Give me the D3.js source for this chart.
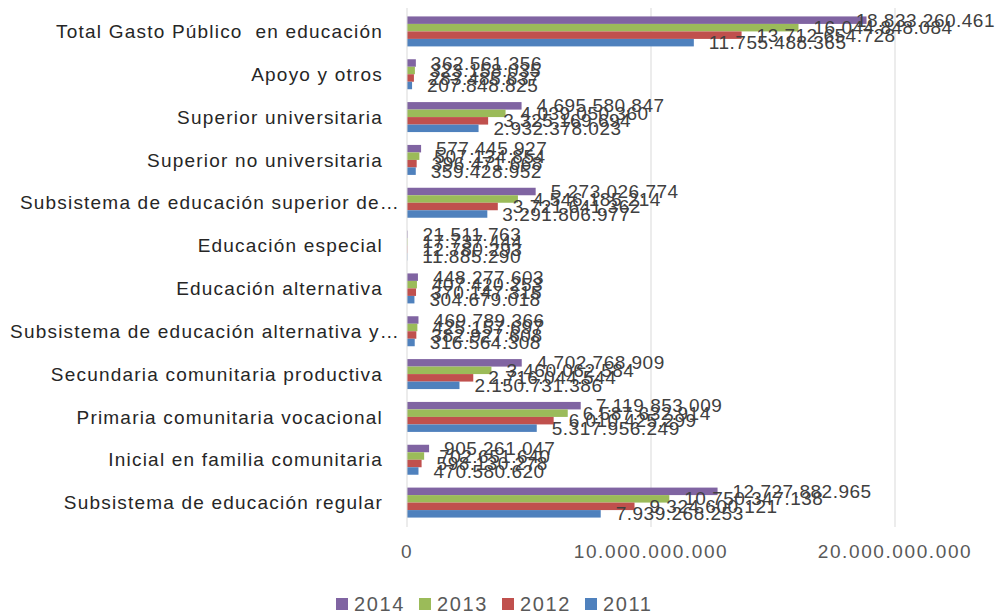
<!DOCTYPE html>
<html>
<head>
<meta charset="utf-8">
<script src="https://d3js.org/d3.v7.min.js"></script>
<style>
  body { margin: 0; background: #fff; }
  text { font-family: "Liberation Sans", Arial, sans-serif; }
</style>
</head>
<body>
<svg id="chart" width="998" height="613"></svg>
<script>
// categories, top to bottom as in the picture
var categories = [
  "Total Gasto Público  en educación",
  "Apoyo y otros",
  "Superior universitaria",
  "Superior no universitaria",
  "Subsistema de educación superior de…",
  "Educación especial",
  "Educación alternativa",
  "Subsistema de educación alternativa y…",
  "Secundaria comunitaria productiva",
  "Primaria comunitaria vocacional",
  "Inicial en familia comunitaria",
  "Subsistema de educación regular"
];

var years = ["2014", "2013", "2012", "2011"];
var colors = ["#8064A2", "#9BBB59", "#C0504D", "#4F81BD"];

var y2014 = [18833260461, 362561356, 4695580847, 577445927, 5273026774, 21511763, 448277603, 469789366, 4702768909, 7119853009, 905261047, 12727882965];
var y2013 = [16044848084, 323158035, 4039050360, 507134854, 4546185214, 17737444, 407420253, 425157697, 3460062584, 6587632914, 702651640, 10750347138];
var y2012 = [13712654728, 283485637, 3325169694, 396471668, 3721641362, 12780293, 370147315, 382927608, 2716044544, 6010425299, 598130278, 9324600121];
var y2011 = [11755488365, 207848825, 2932378023, 359428952, 3291806977, 11885290, 304679018, 316564308, 2150731386, 5317956249, 470580620, 7939268253];

var tickValues = [0, 10000000000, 20000000000];

var series = [y2014, y2013, y2012, y2011];

var es = d3.formatLocale({decimal: ",", thousands: ".", grouping: [3], currency: ["", ""]});
var fmt = es.format(",");

var svg = d3.select("#chart");
var W = +svg.attr("width");

var x = d3.scaleLinear().domain([0, 20000000000]).range([407, 895]);
var y = d3.scaleBand().domain(categories).range([10, 524])
  .paddingInner(0.3).paddingOuter(0.15);
var yInner = d3.scaleBand().domain(years).range([0, y.bandwidth()]);

// gridlines
svg.append("g")
  .selectAll("line")
  .data(tickValues.slice(1))
  .enter().append("line")
    .attr("x1", function(d) { return x(d); })
    .attr("x2", function(d) { return x(d); })
    .attr("y1", 8).attr("y2", 527)
    .attr("stroke", "#d9d9d9").attr("stroke-width", 1);

// bars
var groups = svg.append("g")
  .selectAll("g")
  .data(categories)
  .enter().append("g")
    .attr("transform", function(d) { return "translate(0," + y(d) + ")"; });

groups.selectAll("rect")
  .data(function(d, i) {
    return years.map(function(yr, j) { return {year: yr, value: series[j][i], color: colors[j]}; });
  })
  .enter().append("rect")
    .attr("x", x(0))
    .attr("y", function(d) { return yInner(d.year); })
    .attr("width", function(d) { return x(d.value) - x(0); })
    .attr("height", yInner.bandwidth())
    .attr("fill", function(d) { return d.color; });

// value labels (kept inside the chart on the right)
groups.selectAll("text")
  .data(function(d, i) {
    return years.map(function(yr, j) { return {year: yr, value: series[j][i]}; });
  })
  .enter().append("text")
    .attr("y", function(d) { return yInner(d.year) + yInner.bandwidth() / 2; })
    .attr("dy", "0.35em")
    .attr("fill", "#404040")
    .style("font-size", "19px")
    .style("letter-spacing", "0.5px")
    .text(function(d) { return fmt(d.value); })
    .attr("x", function(d) {
      var w = this.getComputedTextLength();
      return Math.min(x(d.value) + 15, W - 3 - w);
    });

// axis line
svg.append("line")
  .attr("x1", x(0)).attr("x2", x(0))
  .attr("y1", 8).attr("y2", 527)
  .attr("stroke", "#d9d9d9").attr("stroke-width", 1);

// category labels; the cut ones run a bit further right
svg.append("g")
  .selectAll("text")
  .data(categories)
  .enter().append("text")
    .attr("x", function(d) { return d.slice(-1) === "…" ? 400 : 383; })
    .attr("y", function(d) { return y(d) + y.bandwidth() / 2; })
    .attr("dy", "0.35em")
    .attr("text-anchor", "end")
    .attr("fill", "#262626")
    .style("font-size", "19px")
    .style("letter-spacing", "1.2px")
    .style("white-space", "pre")
    .text(function(d) { return d; });

// x tick labels
svg.append("g")
  .selectAll("text")
  .data(tickValues)
  .enter().append("text")
    .attr("x", function(d) { return x(d); })
    .attr("y", 551)
    .attr("dy", "0.35em")
    .attr("text-anchor", "middle")
    .attr("fill", "#595959")
    .style("font-size", "19px")
    .style("letter-spacing", "1.6px")
    .text(function(d) { return fmt(d); });

// legend
var legend = svg.append("g")
  .selectAll("g")
  .data(years)
  .enter().append("g")
    .attr("transform", function(d, i) { return "translate(" + (336 + i * 83) + ",604)"; });

legend.append("rect")
  .attr("x", 0).attr("y", -6)
  .attr("width", 12).attr("height", 12)
  .attr("fill", function(d, i) { return colors[i]; });

legend.append("text")
  .attr("x", 18).attr("y", 0)
  .attr("dy", "0.35em")
  .attr("fill", "#595959")
  .style("font-size", "20px")
  .style("letter-spacing", "1.6px")
  .text(function(d) { return d; });
</script>
</body>
</html>
